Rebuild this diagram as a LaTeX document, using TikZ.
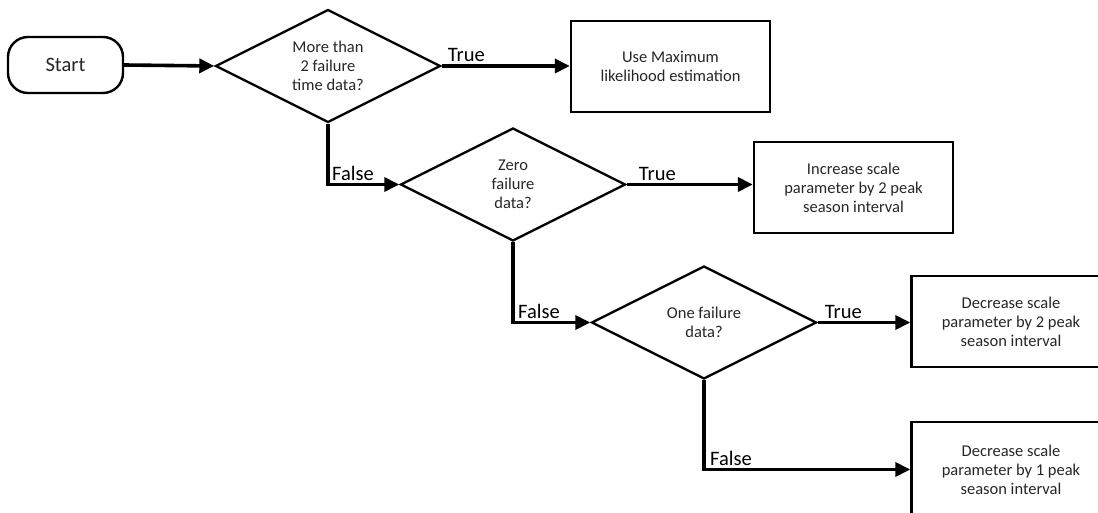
\documentclass[tikz,border=0pt]{standalone}
\usepackage{fontspec}
\setmainfont{Carlito}
\usetikzlibrary{shapes.geometric,arrows.meta}

\tikzset{
  shape border/.style={draw=black, line width=2.4pt},
  body text/.style={text=black!85, font=\fontsize{16.5}{19}\selectfont, align=center},
  terminal/.style={shape border, text=black!85, font=\fontsize{20.5}{22}\selectfont,
    rounded corners=20pt, minimum width=115pt, minimum height=56pt, inner sep=0pt},
  decision/.style={shape border, body text, diamond, aspect=2,
    minimum width=225pt, minimum height=113pt, inner sep=0pt},
  process/.style={shape border, body text, rectangle,
    minimum width=199pt, minimum height=91pt, inner sep=0pt},
  flow/.style={line width=3.6pt, -{Triangle[length=15pt,width=14pt]}},
  branch/.style={font=\fontsize{20.5}{22}\selectfont, text=black, inner sep=0pt}
}

\begin{document}
\begin{tikzpicture}[x=1pt, y=-1pt]
  \useasboundingbox (0,0) rectangle (1098,513);
  \clip (0,0) rectangle (1098,513);

  % shapes
  \node[terminal] (start) at (65.5,65) {Start};
  \node[decision] (d1) at (328,66) {More than\\2 failure\\time data?};
  \node[process]  (b1) at (670.5,66.5) {Use Maximum\\likelihood estimation};
  \node[decision] (d2) at (513,184.5) {Zero\\failure\\data?};
  \node[process]  (b2) at (853.5,187.5) {Increase scale\\parameter by 2 peak\\season interval};
  \node[decision] (d3) at (704,322.5) {One failure\\data?};
  \node[process]  (b3) at (1011,321.5) {Decrease scale\\parameter by 2 peak\\season interval};
  \node[process, minimum height=95pt] (b4) at (1011,469.5) {Decrease scale\\parameter by 1 peak\\season interval};

  % connectors
  \draw[flow] (start.east) -- (d1.west);
  \draw[flow] (d1.east) -- (d1.east -| b1.west);
  \draw[flow] (d1.south) |- (d2.west);
  \draw[flow] (d2.east) -- (d2.east -| b2.west);
  \draw[flow] (d2.south) |- (d3.west);
  \draw[flow] (d3.east) -- (d3.east -| b3.west);
  \draw[flow] (d3.south) |- (b4.west);

  % branch labels, set just above their connectors
  \node[branch, anchor=south west] (t1) at ([xshift=6pt, yshift=4pt]d1.east) {True};
  \node[branch, anchor=south west] (f1) at ([xshift=4pt, yshift=4pt]d1.south |- d2.west) {False};
  \node[branch, anchor=south west] (t2) at ([xshift=12pt, yshift=4pt]d2.east) {True};
  \node[branch, anchor=south west] (f2) at ([xshift=5pt, yshift=4pt]d2.south |- d3.west) {False};
  \node[branch, anchor=south west] (t3) at ([xshift=7pt, yshift=4pt]d3.east) {True};
  \node[branch, anchor=south west] (f3) at ([xshift=6pt, yshift=4pt]d3.south |- b4.west) {False};
\end{tikzpicture}
\end{document}
